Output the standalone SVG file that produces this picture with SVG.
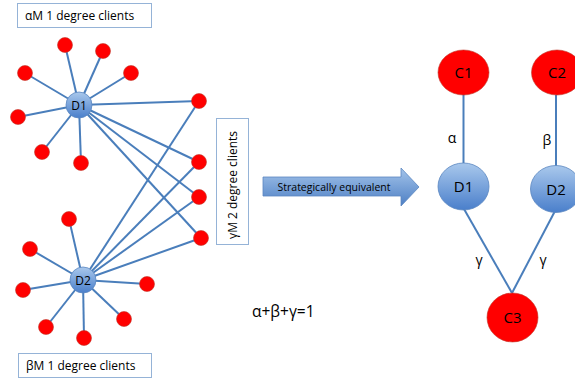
<svg xmlns="http://www.w3.org/2000/svg" width="575" height="380" viewBox="0 0 575 380">
<defs>
<linearGradient id="gb" x1="0" y1="0" x2="0" y2="1">
<stop offset="0" stop-color="#a9c8ec"/>
<stop offset="1" stop-color="#4a7fcb"/>
</linearGradient>
<linearGradient id="ga" x1="0" y1="0" x2="0" y2="1">
<stop offset="0" stop-color="#a4c4ea"/>
<stop offset="1" stop-color="#4d7fc4"/>
</linearGradient>
</defs>
<style>
.e{stroke:#4a7ebb;stroke-width:2;fill:none}
.r{fill:#ff0000;stroke:#c0392b;stroke-width:0.6}
.b{fill:url(#gb);stroke:#5b86c0;stroke-width:0.8}
.box{fill:#fff;stroke:#95b3d7;stroke-width:1}
.t{font-family:"Open Sans","Noto Sans",sans-serif;fill:#000}
</style>
<g id="connectors">
<line class="e" x1="79" y1="105" x2="65" y2="45"/>
<line class="e" x1="79" y1="105" x2="103" y2="51"/>
<line class="e" x1="79" y1="105" x2="25" y2="73"/>
<line class="e" x1="79" y1="105" x2="131" y2="73"/>
<line class="e" x1="79" y1="105" x2="18" y2="117"/>
<line class="e" x1="79" y1="105" x2="42" y2="152"/>
<line class="e" x1="79" y1="105" x2="81" y2="163"/>
<line class="e" x1="79" y1="105" x2="199" y2="101"/>
<line class="e" x1="79" y1="105" x2="199" y2="162"/>
<line class="e" x1="79" y1="105" x2="199" y2="197"/>
<line class="e" x1="79" y1="105" x2="201" y2="238"/>
<line class="e" x1="83" y1="280" x2="199" y2="101"/>
<line class="e" x1="83" y1="280" x2="199" y2="162"/>
<line class="e" x1="83" y1="280" x2="199" y2="197"/>
<line class="e" x1="83" y1="280" x2="201" y2="238"/>
<line class="e" x1="83" y1="280" x2="69" y2="219"/>
<line class="e" x1="83" y1="280" x2="30" y2="249"/>
<line class="e" x1="83" y1="280" x2="23" y2="290"/>
<line class="e" x1="83" y1="280" x2="147" y2="284"/>
<line class="e" x1="83" y1="280" x2="124" y2="319"/>
<line class="e" x1="83" y1="280" x2="46" y2="327"/>
<line class="e" x1="83" y1="280" x2="84" y2="338"/>
<line class="e" x1="463.5" y1="94" x2="463.5" y2="163"/>
<line class="e" x1="556" y1="95" x2="556" y2="166"/>
<line class="e" x1="464" y1="209" x2="512" y2="293"/>
<line class="e" x1="555" y1="211" x2="512" y2="293"/>
</g>
<g id="label-alpha-box">
<rect class="box" x="17.5" y="3.5" width="134" height="24"/>
<text class="t" x="25" y="20" font-size="12">αM 1 degree clients</text>
</g>
<g id="label-beta-box">
<rect class="box" x="18.5" y="353.5" width="133" height="24"/>
<text class="t" x="26" y="370" font-size="12">βM 1 degree clients</text>
</g>
<g id="label-gamma-box">
<rect class="box" x="216.5" y="118.5" width="32" height="126"/>
<text class="t" font-size="12" transform="translate(237,239) rotate(-90)">γM 2 degree clients</text>
</g>
<g id="clients-d1">
<circle class="r" cx="65" cy="45" r="7.5"/>
<circle class="r" cx="103" cy="51" r="7.5"/>
<circle class="r" cx="25" cy="73" r="7.5"/>
<circle class="r" cx="131" cy="73" r="7.5"/>
<circle class="r" cx="18" cy="117" r="7.5"/>
<circle class="r" cx="42" cy="152" r="7.5"/>
<circle class="r" cx="81" cy="163" r="7.5"/>
</g>
<g id="clients-gamma">
<circle class="r" cx="199" cy="101" r="7.5"/>
<circle class="r" cx="199" cy="162" r="7.5"/>
<circle class="r" cx="199" cy="197" r="7.5"/>
<circle class="r" cx="201" cy="238" r="7.5"/>
</g>
<g id="clients-d2">
<circle class="r" cx="69" cy="219" r="7.5"/>
<circle class="r" cx="30" cy="249" r="7.5"/>
<circle class="r" cx="23" cy="290" r="7.5"/>
<circle class="r" cx="147" cy="284" r="7.5"/>
<circle class="r" cx="124" cy="319" r="7.5"/>
<circle class="r" cx="46" cy="327" r="7.5"/>
<circle class="r" cx="84" cy="338" r="7.5"/>
</g>
<g id="D1">
<circle class="b" cx="79" cy="105" r="13"/>
<text class="t" x="79" y="109.5" font-size="12" text-anchor="middle">D1</text>
</g>
<g id="D2">
<circle class="b" cx="83" cy="280" r="13"/>
<text class="t" x="83" y="284.5" font-size="12" text-anchor="middle">D2</text>
</g>
<g id="arrow">
<polygon points="263,177 401,177 401,168 419,187 401,206 401,196 263,196" fill="url(#ga)" stroke="#5b86c0" stroke-width="0.8"/>
<text class="t" x="334" y="191" font-size="10.5" text-anchor="middle">Strategically equivalent</text>
</g>
<g id="C1">
<ellipse class="r" cx="463.5" cy="72.5" rx="25.5" ry="22.5"/>
<text class="t" x="463.5" y="78" font-size="15" text-anchor="middle">C1</text>
</g>
<g id="C2">
<ellipse class="r" cx="557" cy="72.5" rx="25.5" ry="22.5"/>
<text class="t" x="557" y="78" font-size="15" text-anchor="middle">C2</text>
</g>
<g id="RD1">
<ellipse class="b" cx="463.5" cy="186.5" rx="25.5" ry="23.5"/>
<text class="t" x="463.5" y="192" font-size="15" text-anchor="middle">D1</text>
</g>
<g id="RD2">
<ellipse class="b" cx="556" cy="189" rx="25.5" ry="23.5"/>
<text class="t" x="556" y="194.5" font-size="15" text-anchor="middle">D2</text>
</g>
<g id="C3">
<ellipse class="r" cx="512.5" cy="317.5" rx="25.5" ry="24.5"/>
<text class="t" x="512.5" y="323" font-size="15" text-anchor="middle">C3</text>
</g>
<g id="edge-labels">
<text class="t" x="452" y="143" font-size="14" text-anchor="middle">α</text>
<text class="t" x="547" y="145" font-size="14" text-anchor="middle">β</text>
<text class="t" x="479" y="265" font-size="14" text-anchor="middle">γ</text>
<text class="t" x="543" y="265" font-size="14" text-anchor="middle">γ</text>
</g>
<g id="equation">
<text class="t" x="252" y="317" font-size="15.5">α+β+γ=1</text>
</g>
</svg>
